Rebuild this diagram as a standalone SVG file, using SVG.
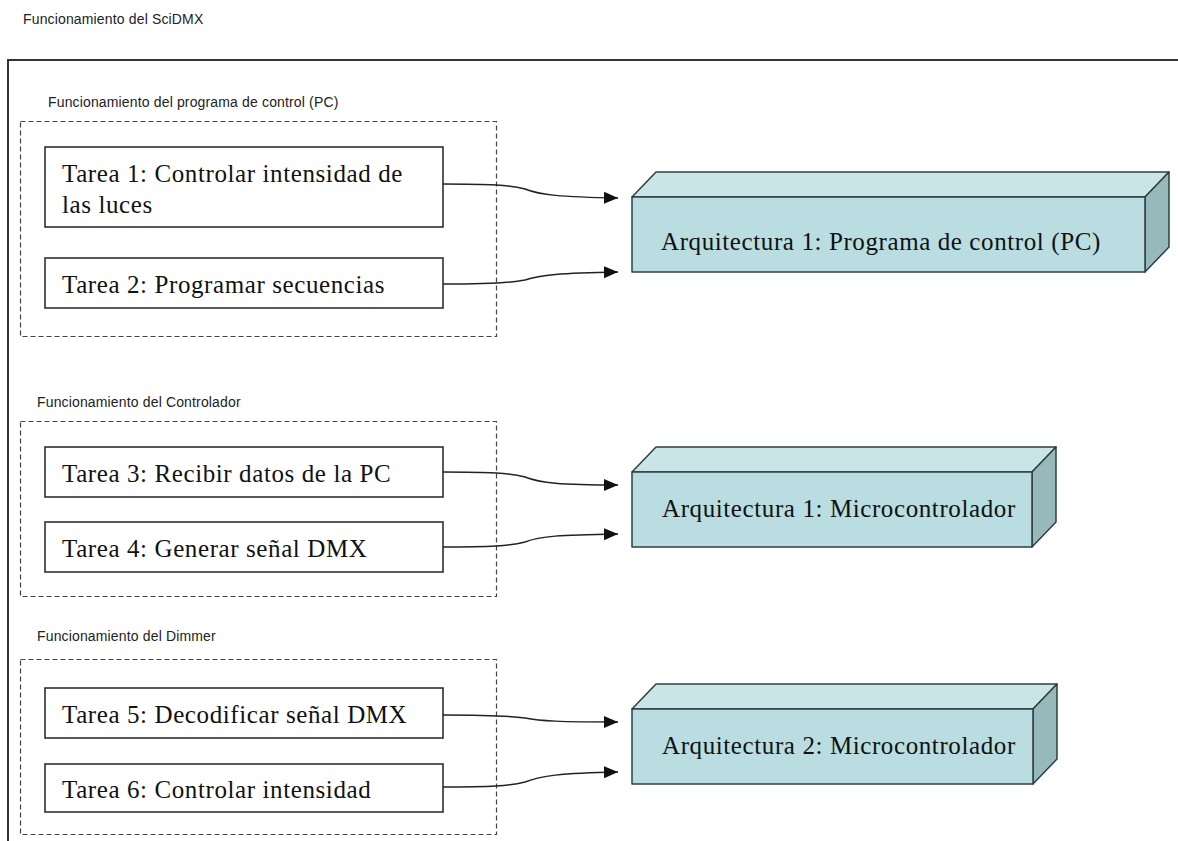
<svg xmlns="http://www.w3.org/2000/svg" width="1178" height="841" viewBox="0 0 1178 841">
  <style>
    .bg { fill: #ffffff; }
    .head { font-family: "Liberation Sans", Arial, sans-serif; font-size: 14px; letter-spacing: 0.15px; fill: #222; }
    .task { font-family: "Liberation Serif", "Times New Roman", serif; font-size: 25px; letter-spacing: 0.6px; fill: #111; }
    .frame { fill: none; stroke: #333; stroke-width: 2; }
    .group { fill: none; stroke: #444; stroke-width: 1.2; stroke-dasharray: 5 3; }
    .taskbox { fill: #ffffff; stroke: #222; stroke-width: 1.5; }
    .front { fill: #b9dde0; stroke: #2f3f40; stroke-width: 1.5; stroke-linejoin: round; }
    .top { fill: #c9e5e8; stroke: #2f3f40; stroke-width: 1.5; stroke-linejoin: round; }
    .side { fill: #97b9bb; stroke: #2f3f40; stroke-width: 1.5; stroke-linejoin: round; }
    .link { fill: none; stroke: #222; stroke-width: 1.5; marker-end: url(#arrow); }
  </style>
  <defs>
    <marker id="arrow" markerUnits="userSpaceOnUse" markerWidth="16" markerHeight="14" refX="14" refY="6" orient="auto">
      <path d="M0,0 L14,6 L0,12 z" fill="#111"/>
    </marker>
  </defs>

  <rect class="bg" x="0" y="0" width="1178" height="841"/>

  <text class="head" x="23" y="24">Funcionamiento del SciDMX</text>

  <!-- outer frame, open to the right and bottom -->
  <path class="frame" d="M8,841 L8,60 L1178,60"/>

  <!-- group: control program -->
  <g id="grupo-pc">
    <text class="head" x="48" y="107">Funcionamiento del programa de control (PC)</text>
    <rect class="group" x="20.5" y="121.5" width="476" height="215"/>
  </g>
  <g id="tarea1">
    <rect class="taskbox" x="45" y="147" width="398" height="80"/>
    <text class="task" x="62" y="182">Tarea 1: Controlar intensidad de</text>
    <text class="task" x="62" y="213">las luces</text>
  </g>
  <g id="tarea2">
    <rect class="taskbox" x="45" y="258" width="398" height="50"/>
    <text class="task" x="62" y="293">Tarea 2: Programar secuencias</text>
  </g>

  <!-- group: controller -->
  <g id="grupo-controlador">
    <text class="head" x="37" y="407">Funcionamiento del Controlador</text>
    <rect class="group" x="20.5" y="421.5" width="476" height="175"/>
  </g>
  <g id="tarea3">
    <rect class="taskbox" x="45" y="447" width="398" height="50"/>
    <text class="task" x="62" y="482">Tarea 3: Recibir datos de la PC</text>
  </g>
  <g id="tarea4">
    <rect class="taskbox" x="45" y="522" width="398" height="50"/>
    <text class="task" x="62" y="557">Tarea 4: Generar señal DMX</text>
  </g>

  <!-- group: dimmer -->
  <g id="grupo-dimmer">
    <text class="head" x="37" y="641">Funcionamiento del Dimmer</text>
    <rect class="group" x="20.5" y="659.5" width="476" height="175"/>
  </g>
  <g id="tarea5">
    <rect class="taskbox" x="45" y="688" width="398" height="50"/>
    <text class="task" x="62" y="723">Tarea 5: Decodificar señal DMX</text>
  </g>
  <g id="tarea6">
    <rect class="taskbox" x="45" y="764" width="398" height="48"/>
    <text class="task" x="62" y="798">Tarea 6: Controlar intensidad</text>
  </g>

  <!-- architecture blocks drawn as boxes in perspective -->
  <g id="arquitectura-pc">
    <polygon class="top" points="632,197 656,172 1169,172 1145,197"/>
    <polygon class="side" points="1145,197 1169,172 1169,247 1145,272"/>
    <rect class="front" x="632" y="197" width="513" height="75"/>
    <text class="task" x="661" y="250">Arquitectura 1: Programa de control (PC)</text>
  </g>
  <g id="arquitectura-controlador">
    <polygon class="top" points="632,472 656,447 1056,447 1032,472"/>
    <polygon class="side" points="1032,472 1056,447 1056,522 1032,547"/>
    <rect class="front" x="632" y="472" width="400" height="75"/>
    <text class="task" x="662" y="517">Arquitectura 1: Microcontrolador</text>
  </g>
  <g id="arquitectura-dimmer">
    <polygon class="top" points="632,709 656,684 1057,684 1033,709"/>
    <polygon class="side" points="1033,709 1057,684 1057,759 1033,784"/>
    <rect class="front" x="632" y="709" width="401" height="75"/>
    <text class="task" x="662" y="754">Arquitectura 2: Microcontrolador</text>
  </g>

  <!-- connectors -->
  <g id="conectores">
    <path class="link" d="M443,184 C490,184 510,185 525,189 C540,195 560,197 618,198"/>
    <path class="link" d="M443,284 C490,284 510,283 525,280 C540,275 560,273 618,272"/>
    <path class="link" d="M443,472 C490,472 510,473 525,477 C540,483 560,485 618,485"/>
    <path class="link" d="M443,547 C490,547 510,546 525,542 C540,536 560,535 618,534"/>
    <path class="link" d="M443,715 C490,715 510,716 525,718 C540,721 560,722 618,722"/>
    <path class="link" d="M443,787 C490,787 510,786 525,782 C540,776 560,773 618,772"/>
  </g>
</svg>
